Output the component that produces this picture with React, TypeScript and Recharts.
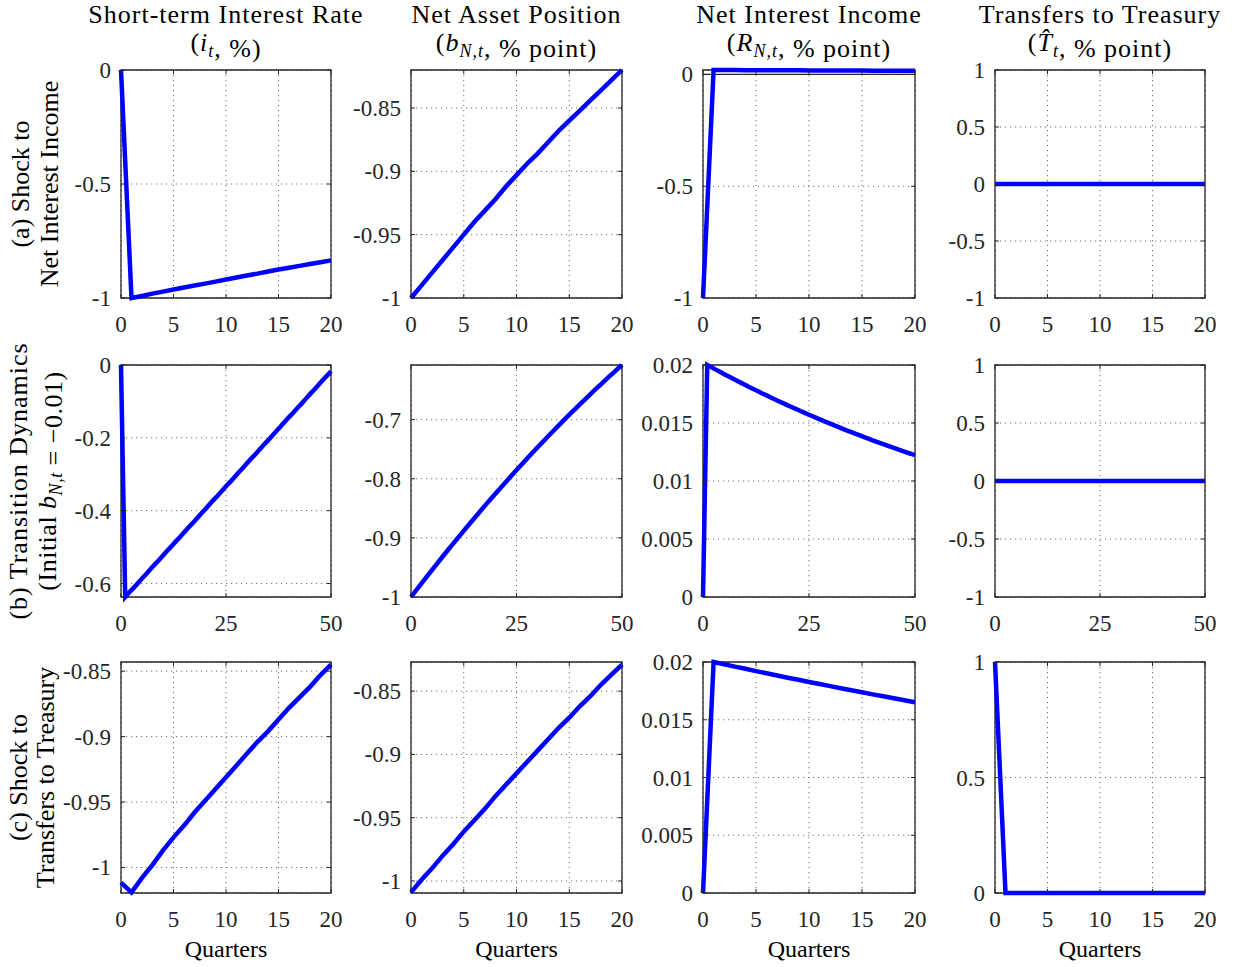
import React from 'react';
import { LineChart, Line, XAxis, YAxis, CartesianGrid, ReferenceArea, ReferenceLine } from 'recharts';

// ---------- data ----------
const quarters20 = [0, 1, 2, 3, 4, 5, 6, 7, 8, 9, 10, 11, 12, 13, 14, 15, 16, 17, 18, 19, 20];
const quarters50 = [0, 1, 2, 3, 4, 5, 6, 7, 8, 9, 10, 11, 12, 13, 14, 15, 16, 17, 18, 19, 20, 21, 22, 23, 24, 25,
  26, 27, 28, 29, 30, 31, 32, 33, 34, 35, 36, 37, 38, 39, 40, 41, 42, 43, 44, 45, 46, 47, 48, 49, 50];

const xTicks20 = [0, 5, 10, 15, 20];
const xTicks50 = [0, 25, 50];

const columnTitles = ['Short-term Interest Rate', 'Net Asset Position', 'Net Interest Income', 'Transfers to Treasury'];

// Row (a): shock to net interest income
const rateA = [0, -1.0, -0.991, -0.981, -0.972, -0.963, -0.954, -0.945, -0.937, -0.928, -0.919, -0.91, -0.901, -0.893,
  -0.884, -0.875, -0.867, -0.859, -0.851, -0.843, -0.835];
const assetA = [-1.0, -0.99, -0.98, -0.97, -0.96, -0.95, -0.94, -0.931, -0.922, -0.912, -0.903, -0.894, -0.886, -0.877,
  -0.868, -0.86, -0.852, -0.844, -0.836, -0.828, -0.82];
const incomeA = [-1, 0.02, 0.0198, 0.0196, 0.01941, 0.01921, 0.01902, 0.01883, 0.01864, 0.01846, 0.01827, 0.01809,
  0.01791, 0.01773, 0.01755, 0.01738, 0.0172, 0.01703, 0.01686, 0.01669, 0.01652];
const transferA = [0, 0, 0, 0, 0, 0, 0, 0, 0, 0, 0, 0, 0, 0, 0, 0, 0, 0, 0, 0, 0];

// Row (b): transition dynamics
const rateB = [0, -0.637, -0.624, -0.612, -0.599, -0.586, -0.574, -0.561, -0.548, -0.536, -0.523, -0.51, -0.498,
  -0.485, -0.473, -0.46, -0.447, -0.435, -0.422, -0.409, -0.397, -0.384, -0.371, -0.359, -0.346, -0.333, -0.321,
  -0.308, -0.295, -0.283, -0.27, -0.257, -0.245, -0.232, -0.219, -0.207, -0.194, -0.181, -0.169, -0.156, -0.143,
  -0.131, -0.118, -0.106, -0.093, -0.08, -0.068, -0.055, -0.042, -0.03, -0.017];
const assetB = [-1.0, -0.9907, -0.9815, -0.9723, -0.9632, -0.9541, -0.9451, -0.9361, -0.9273, -0.9184, -0.9097,
  -0.901, -0.8923, -0.8837, -0.8752, -0.8667, -0.8583, -0.8499, -0.8416, -0.8334, -0.8252, -0.8171, -0.8091,
  -0.8011, -0.7931, -0.7853, -0.7774, -0.7697, -0.762, -0.7543, -0.7467, -0.7392, -0.7318, -0.7243, -0.717,
  -0.7097, -0.7025, -0.6953, -0.6882, -0.6812, -0.6742, -0.6672, -0.6604, -0.6535, -0.6468, -0.6401, -0.6335,
  -0.6269, -0.6204, -0.6139, -0.6075];
const incomeB = [0, 0.02, 0.0198, 0.0196, 0.01941, 0.01921, 0.01902, 0.01883, 0.01864, 0.01846, 0.01827, 0.01809,
  0.01791, 0.01773, 0.01755, 0.01738, 0.0172, 0.01703, 0.01686, 0.01669, 0.01652, 0.01636, 0.0162, 0.01603,
  0.01587, 0.01571, 0.01556, 0.0154, 0.01525, 0.01509, 0.01494, 0.01479, 0.01465, 0.0145, 0.01435, 0.01421,
  0.01407, 0.01393, 0.01379, 0.01365, 0.01351, 0.01338, 0.01325, 0.01311, 0.01298, 0.01285, 0.01272, 0.0126,
  0.01247, 0.01235, 0.01222];
const transferB = [0, 0, 0, 0, 0, 0, 0, 0, 0, 0, 0, 0, 0, 0, 0, 0, 0, 0, 0, 0, 0, 0, 0, 0, 0, 0, 0, 0, 0, 0, 0, 0,
  0, 0, 0, 0, 0, 0, 0, 0, 0, 0, 0, 0, 0, 0, 0, 0, 0, 0, 0];

// Row (c): shock to transfers to treasury
const rateC = [-1.0115, -1.019, -1.008, -0.998, -0.987, -0.977, -0.968, -0.958, -0.949, -0.94, -0.931, -0.922,
  -0.913, -0.904, -0.896, -0.887, -0.878, -0.87, -0.862, -0.853, -0.845];
const assetC = [-1.009, -0.999, -0.99, -0.98, -0.971, -0.961, -0.952, -0.943, -0.933, -0.924, -0.915, -0.906,
  -0.897, -0.888, -0.879, -0.871, -0.862, -0.854, -0.845, -0.837, -0.829];
const incomeC = [0, 0.02, 0.0198, 0.0196, 0.01941, 0.01921, 0.01902, 0.01883, 0.01864, 0.01846, 0.01827, 0.01809,
  0.01791, 0.01773, 0.01755, 0.01738, 0.0172, 0.01703, 0.01686, 0.01669, 0.01652];
const transferC = [1, 0, 0, 0, 0, 0, 0, 0, 0, 0, 0, 0, 0, 0, 0, 0, 0, 0, 0, 0, 0];

// y-axis ranges and tick labels
const yDomainA = [[-1, 0], [-1, -0.82], [-1, 0.02], [-1, 1]];
const yTicksA = [[-1, -0.5, 0], [-1, -0.95, -0.9, -0.85], [-1, -0.5, 0], [-1, -0.5, 0, 0.5, 1]];
const yDomainB = [[-0.637, 0], [-1, -0.6075], [0, 0.02], [-1, 1]];
const yTicksB = [[-0.6, -0.4, -0.2, 0], [-1, -0.9, -0.8, -0.7], [0, 0.005, 0.01, 0.015, 0.02], [-1, -0.5, 0, 0.5, 1]];
const yDomainC = [[-1.0195, -0.843], [-1.0095, -0.827], [0, 0.02], [0, 1]];
const yTicksC = [[-1, -0.95, -0.9, -0.85], [-1, -0.95, -0.9, -0.85], [0, 0.005, 0.01, 0.015, 0.02], [0, 0.5, 1]];

// ---------- layout ----------
const FONT = "'Liberation Serif', 'Times New Roman', Times, serif";
const INK = '#262626';
const colLeft = [121, 411, 703, 995];
const colWidth = [210, 211, 212, 210];
const rowTop = [70, 365, 662];
const rowHeight = [228, 232, 231];
const PAD_L = 95;
const PAD_R = 12;
const PAD_T = 12;
const PAD_B = 45;
const TICK_LEN = 4;

type PanelDef = {
  quarters: number[];
  values: number[];
  xTicks: number[];
  yDomain: number[];
  yTicks: number[];
  zeroLine?: boolean;
};

const rowsDef: PanelDef[][] = [
  [
    { quarters: quarters20, values: rateA, xTicks: xTicks20, yDomain: yDomainA[0], yTicks: yTicksA[0] },
    { quarters: quarters20, values: assetA, xTicks: xTicks20, yDomain: yDomainA[1], yTicks: yTicksA[1] },
    { quarters: quarters20, values: incomeA, xTicks: xTicks20, yDomain: yDomainA[2], yTicks: yTicksA[2], zeroLine: true },
    { quarters: quarters20, values: transferA, xTicks: xTicks20, yDomain: yDomainA[3], yTicks: yTicksA[3] },
  ],
  [
    { quarters: quarters50, values: rateB, xTicks: xTicks50, yDomain: yDomainB[0], yTicks: yTicksB[0] },
    { quarters: quarters50, values: assetB, xTicks: xTicks50, yDomain: yDomainB[1], yTicks: yTicksB[1] },
    { quarters: quarters50, values: incomeB, xTicks: xTicks50, yDomain: yDomainB[2], yTicks: yTicksB[2] },
    { quarters: quarters50, values: transferB, xTicks: xTicks50, yDomain: yDomainB[3], yTicks: yTicksB[3] },
  ],
  [
    { quarters: quarters20, values: rateC, xTicks: xTicks20, yDomain: yDomainC[0], yTicks: yTicksC[0] },
    { quarters: quarters20, values: assetC, xTicks: xTicks20, yDomain: yDomainC[1], yTicks: yTicksC[1] },
    { quarters: quarters20, values: incomeC, xTicks: xTicks20, yDomain: yDomainC[2], yTicks: yTicksC[2] },
    { quarters: quarters20, values: transferC, xTicks: xTicks20, yDomain: yDomainC[3], yTicks: yTicksC[3] },
  ],
];

function Panel({ def, left, top, W, H }: { def: PanelDef; left: number; top: number; W: number; H: number }) {
  const data = def.quarters.map((q, i) => ({ q, v: def.values[i] }));
  const xMin = def.quarters[0];
  const xMax = def.quarters[def.quarters.length - 1];
  const [yMin, yMax] = def.yDomain;

  const xTick = (props: any) => {
    const { x, payload } = props;
    const yb = PAD_T + H;
    return (
      <g>
        <line x1={x} x2={x} y1={yb} y2={yb - TICK_LEN} stroke={INK} strokeWidth={1} />
        <line x1={x} x2={x} y1={PAD_T} y2={PAD_T + TICK_LEN} stroke={INK} strokeWidth={1} />
        <text x={x} y={yb + 34} textAnchor="middle" fontFamily={FONT} fontSize={23} fill={INK}>
          {String(payload.value)}
        </text>
      </g>
    );
  };
  const yTick = (props: any) => {
    const { y, payload } = props;
    return (
      <g>
        <line x1={PAD_L} x2={PAD_L + TICK_LEN} y1={y} y2={y} stroke={INK} strokeWidth={1} />
        <line x1={PAD_L + W} x2={PAD_L + W - TICK_LEN} y1={y} y2={y} stroke={INK} strokeWidth={1} />
        <text x={PAD_L - 10} y={y + 8} textAnchor="end" fontFamily={FONT} fontSize={23} fill={INK}>
          {String(payload.value)}
        </text>
      </g>
    );
  };

  return (
    <div style={{ position: 'absolute', left: left - PAD_L, top: top - PAD_T }}>
      <LineChart
        width={PAD_L + W + PAD_R}
        height={PAD_T + H + PAD_B}
        data={data}
        margin={{ top: PAD_T, right: PAD_R, left: 0, bottom: 0 }}
      >
        <CartesianGrid stroke="#707070" strokeDasharray="1.2 3.8" strokeWidth={1} />
        <XAxis
          dataKey="q"
          type="number"
          domain={[xMin, xMax]}
          ticks={def.xTicks}
          interval={0}
          height={PAD_B}
          axisLine={false}
          tickLine={false}
          tick={xTick}
        />
        <YAxis
          type="number"
          domain={def.yDomain}
          ticks={def.yTicks}
          interval={0}
          width={PAD_L}
          axisLine={false}
          tickLine={false}
          tick={yTick}
        />
        <ReferenceArea
          x1={xMin}
          x2={xMax}
          y1={yMin}
          y2={yMax}
          fill="none"
          fillOpacity={0}
          stroke={INK}
          strokeWidth={1.3}
          ifOverflow="visible"
        />
        {def.zeroLine ? <ReferenceLine y={0} stroke={INK} strokeWidth={1.2} /> : null}
        <Line
          type="linear"
          dataKey="v"
          stroke="#0000ff"
          strokeWidth={4.5}
          dot={false}
          activeDot={false}
          isAnimationActive={false}
        />
      </LineChart>
    </div>
  );
}

const Sub = ({ children }: { children: React.ReactNode }) => (
  <>
    <tspan dy={6} fontSize={18} fontStyle="italic">{children}</tspan>
    <tspan dy={-6}>{''}</tspan>
  </>
);

function Overlay() {
  const centers = colLeft.map((l, i) => l + colWidth[i] / 2);
  const titleStyle = { fontFamily: FONT, fontSize: 26, fill: '#000', letterSpacing: 1 } as any;
  const rowCenters = rowTop.map((t, i) => t + rowHeight[i] / 2);
  const rowStyle = { fontFamily: FONT, fontSize: 26, fill: '#000' } as any;
  return (
    <svg width={1239} height={967} style={{ position: 'absolute', left: 0, top: 0, pointerEvents: 'none' }}>
      {columnTitles.map((t, i) => (
        <text key={'t' + i} x={centers[i]} y={23} textAnchor="middle" style={titleStyle}>{t}</text>
      ))}
      <text x={centers[0]} y={51} textAnchor="middle" style={titleStyle}>
        (<tspan fontStyle="italic">i</tspan><Sub>t</Sub>, %)
      </text>
      <text x={centers[1]} y={51} textAnchor="middle" style={titleStyle}>
        (<tspan fontStyle="italic">b</tspan><Sub>N,t</Sub>, % point)
      </text>
      <text x={centers[2]} y={51} textAnchor="middle" style={titleStyle}>
        (<tspan fontStyle="italic">R</tspan><Sub>N,t</Sub>, % point)
      </text>
      <text x={centers[3]} y={51} textAnchor="middle" style={titleStyle}>
        (<tspan fontStyle="italic">{'T\u0302'}</tspan><Sub>t</Sub>, % point)
      </text>

      <g transform={`translate(29, ${rowCenters[0]}) rotate(-90)`}>
        <text x={0} y={0} textAnchor="middle" style={rowStyle}>(a) Shock to</text>
      </g>
      <g transform={`translate(58, ${rowCenters[0]}) rotate(-90)`}>
        <text x={0} y={0} textAnchor="middle" style={rowStyle}>Net Interest Income</text>
      </g>
      <g transform={`translate(27, ${rowCenters[1]}) rotate(-90)`}>
        <text x={0} y={0} textAnchor="middle" style={{ ...rowStyle, letterSpacing: 1 }}>(b) Transition Dynamics</text>
      </g>
      <g transform={`translate(56, ${rowCenters[1]}) rotate(-90)`}>
        <text x={0} y={0} textAnchor="middle" style={{ ...rowStyle, letterSpacing: 0.5 }}>
          (Initial <tspan fontStyle="italic">b</tspan><Sub>N,t</Sub> = {'\u22120.01'})
        </text>
      </g>
      <g transform={`translate(27, ${rowCenters[2]}) rotate(-90)`}>
        <text x={0} y={0} textAnchor="middle" style={rowStyle}>(c) Shock to</text>
      </g>
      <g transform={`translate(54, ${rowCenters[2]}) rotate(-90)`}>
        <text x={0} y={0} textAnchor="middle" style={rowStyle}>Transfers to Treasury</text>
      </g>

      {centers.map((c, i) => (
        <text key={'q' + i} x={c} y={957} textAnchor="middle" style={{ fontFamily: FONT, fontSize: 24, fill: '#000' }}>
          Quarters
        </text>
      ))}
    </svg>
  );
}

export default function App() {
  return (
    <div style={{ position: 'absolute', left: 0, top: 0, width: 1239, height: 967, background: '#fff', overflow: 'hidden' }}>
      {rowsDef.map((row, r) =>
        row.map((def, c) => (
          <Panel
            key={`${r}-${c}`}
            def={def}
            left={colLeft[c]}
            top={rowTop[r]}
            W={colWidth[c]}
            H={rowHeight[r]}
          />
        ))
      )}
      <Overlay />
    </div>
  );
}
